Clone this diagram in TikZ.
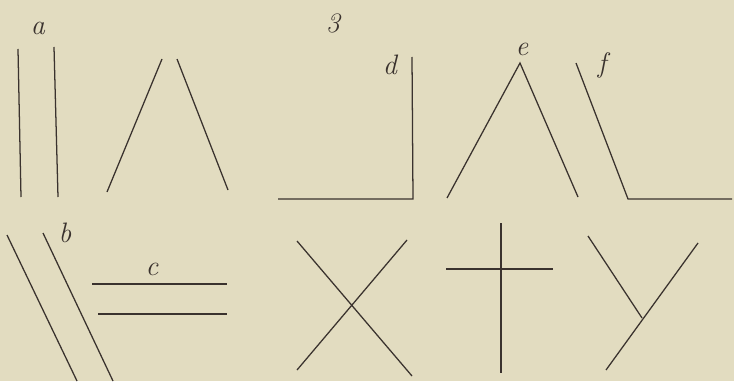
\documentclass[tikz,border=0pt]{standalone}
\definecolor{paper}{RGB}{226,220,192}
\definecolor{ink}{RGB}{58,50,46}
\tikzset{
  stroke/.style={draw=ink,line width=0.9pt},
  lbl/.style={text=ink,inner sep=0pt,font=\fontsize{20}{24}\selectfont\itshape}
}
\begin{document}
\begin{tikzpicture}[x=0.025cm,y=-0.025cm]
\path[use as bounding box,fill=paper] (0,0) rectangle (734,381);

% a
\coordinate (1a) at (18,49);
\coordinate (2a) at (21,197);
\coordinate (3a) at (54,47);
\coordinate (4a) at (58,197);
\path[stroke] (1a) -- (2a);
\path[stroke] (3a) -- (4a);
\node[lbl] (la) at (38,28) {a};

% open angle
\coordinate (1g) at (162,59);
\coordinate (2g) at (107,192);
\coordinate (3g) at (177,59);
\coordinate (4g) at (228,190);
\path[stroke] (1g) -- (2g);
\path[stroke] (3g) -- (4g);

\node[lbl] (l3) at (333,23) {3};

% d
\coordinate (1d) at (412,57);
\coordinate (2d) at (413,199);
\coordinate (3d) at (278,199);
\path[stroke] (1d) -- (2d) -- (3d);
\node[lbl] (ld) at (390,65) {d};

% e
\coordinate (1e) at (520,63);
\coordinate (2e) at (447,198);
\coordinate (3e) at (578,197);
\path[stroke] (2e) -- (1e) -- (3e);
\node[lbl] (le) at (522,49) {e};

% f
\coordinate (1f) at (576,63);
\coordinate (2f) at (628,199);
\coordinate (3f) at (732,199);
\path[stroke] (1f) -- (2f) -- (3f);
\node[lbl] (lf) at (602,65) {f};

% b
\coordinate (1b) at (7,235);
\coordinate (2b) at (77,381);
\coordinate (3b) at (43,233);
\coordinate (4b) at (113,381);
\path[stroke] (1b) -- (2b);
\path[stroke] (3b) -- (4b);
\node[lbl] (lb) at (65,233) {b};

% c
\coordinate (1c) at (92,284);
\coordinate (2c) at (227,284);
\coordinate (3c) at (98,314);
\coordinate (4c) at (227,314);
\path[stroke,line width=1.2pt] (1c) -- (2c);
\path[stroke,line width=1.2pt] (3c) -- (4c);
\node[lbl] (lc) at (152,269) {c};

% crossing
\coordinate (1x) at (297,241);
\coordinate (2x) at (412,376);
\coordinate (3x) at (407,240);
\coordinate (4x) at (297,370);
\path[stroke] (1x) -- (2x);
\path[stroke] (3x) -- (4x);

% cross
\coordinate (1t) at (501,223);
\coordinate (2t) at (501,373);
\coordinate (3t) at (446,269);
\coordinate (4t) at (553,269);
\path[stroke] (1t) -- (2t);
\path[stroke] (3t) -- (4t);

% fork
\coordinate (1y) at (698,243);
\coordinate (2y) at (606,370);
\coordinate (3y) at (588,236);
\coordinate (4y) at (642,318);
\path[stroke] (1y) -- (2y);
\path[stroke] (3y) -- (4y);
\end{tikzpicture}
\end{document}
